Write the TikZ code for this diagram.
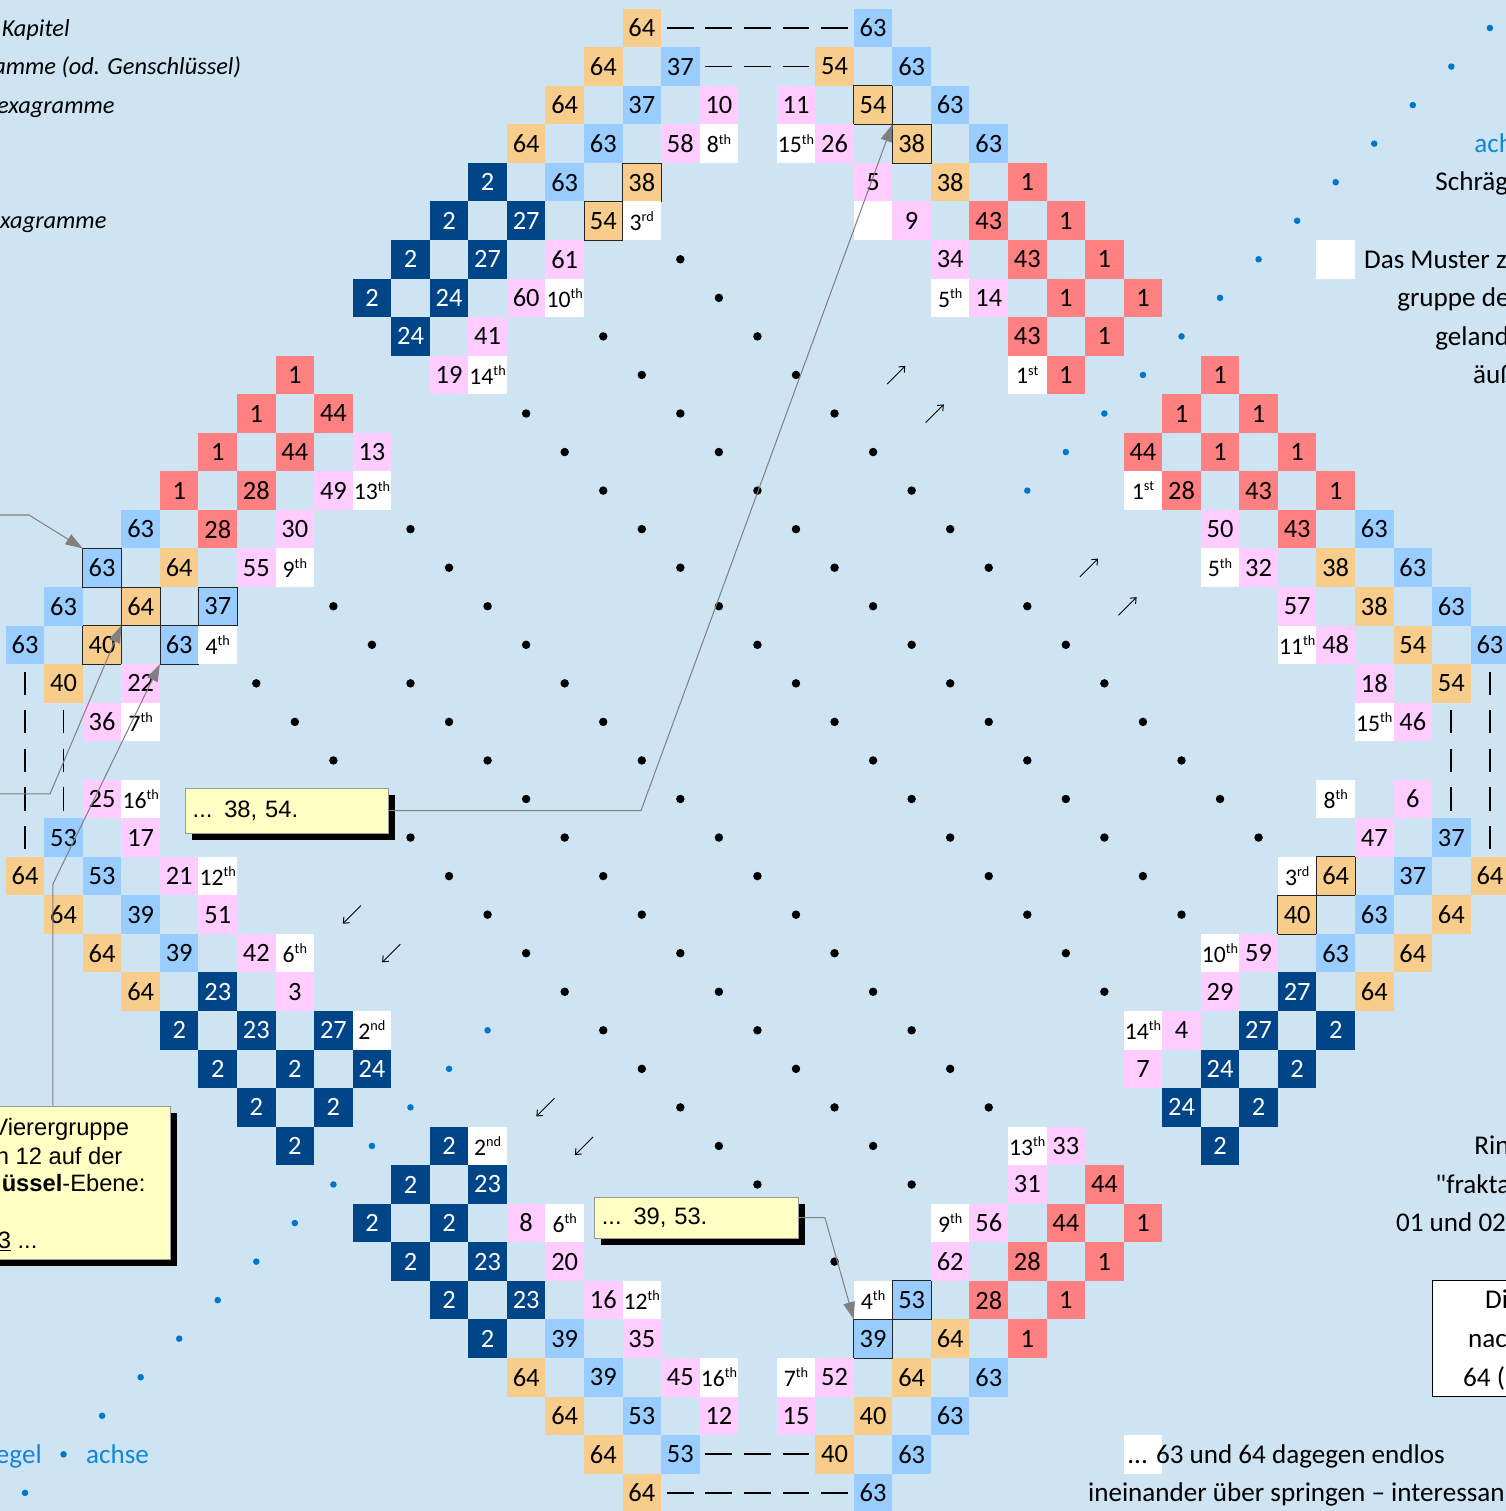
\documentclass[tikz,border=0pt]{standalone}
\usepackage{fontspec}
\setmainfont{Carlito}
\newfontfamily\arialfam{Liberation Sans}
\newfontfamily\plainquotefont{Carlito}[Ligatures=TeXOff]
\usetikzlibrary{arrows.meta,shadows}
\definecolor{bgc}{RGB}{206,228,243}
\definecolor{corg}{RGB}{248,204,138}
\definecolor{cblu}{RGB}{153,204,255}
\definecolor{cpnk}{RGB}{255,204,255}
\definecolor{cred}{RGB}{255,128,128}
\definecolor{cdrk}{RGB}{0,69,136}
\definecolor{dotblue}{RGB}{0,118,204}
\definecolor{txtblue}{RGB}{20,134,214}
\definecolor{callfill}{RGB}{255,255,196}
\definecolor{lineg}{RGB}{128,128,128}
\newcommand\numsize{\fontsize{19.5}{19.5}\selectfont}
\newcommand\ordsize{\fontsize{17.5}{17.5}\selectfont}
\newcommand\legsize{\fontsize{20}{24}\selectfont}
\newcommand\itsize{\fontsize{18}{22}\selectfont\itshape}
\newcommand\calsize{\arialfam\fontsize{17.5}{21}\selectfont}
\newcommand\ordn[2]{{\ordsize #1\raisebox{6.5pt}{\fontsize{10.5}{10.5}\selectfont #2}}}
\tikzset{
  cellbase/.style={rectangle, minimum size=1cm, inner sep=0pt, outer sep=0pt, font=\numsize, text=black},
  cellO/.style={cellbase, fill=corg},
  cellB/.style={cellbase, fill=cblu},
  cellP/.style={cellbase, fill=cpnk},
  cellR/.style={cellbase, fill=cred},
  cellD/.style={cellbase, fill=cdrk, text=white},
  cellW/.style={cellbase, fill=white},
  framed/.style={draw=black!85, line width=0.6pt},
  dashmark/.style={line width=1.35pt, draw=black},
  conn/.style={draw=lineg, line width=0.75pt, -{Triangle[length=0.45cm,width=0.3cm,fill=lineg]}},
  smallarrow/.style={draw=black, line width=0.7pt, -{Straight Barb[length=3.5pt,width=6pt]}},
  callout/.style={draw=black!40, line width=0.6pt, fill=callfill, inner sep=0pt, font=\calsize,
     drop shadow={shadow xshift=0.18cm, shadow yshift=-0.18cm, fill=black, opacity=1}},
  calltext/.style={font=\calsize, inner sep=0pt, anchor=base east},
  legend/.style={font=\legsize, inner sep=0pt, anchor=base west},
  legendE/.style={font=\legsize, inner sep=0pt, anchor=base east},
  legendI/.style={font=\itsize, inner sep=0pt, anchor=base west},
}
\begin{document}
\begin{tikzpicture}
\useasboundingbox (-0.6485,0.7263) rectangle (38.418,-38.470);
\clip (-0.6485,0.7263) rectangle (38.418,-38.470);
\fill[bgc] (-0.6485,0.7263) rectangle (38.418,-38.470);

% black dot lattice
\foreach \dd/\aa/\bb in {11/6/21, 7/8/23, 3/10/25, -3/13/28, -7/15/30, -11/17/32}{
  \foreach \yy in {\aa,...,\bb}{ \fill[black] (\yy+\dd,-\yy) circle (0.11); }
}
% blue axis dots
\foreach \yy in {0,...,12}{ \fill[dotblue] (38-\yy,-\yy) circle (0.085); }
\foreach \yy in {26,...,38}{ \fill[dotblue] (38-\yy,-\yy) circle (0.085); }

% dashes and bars
\foreach \xx in {17,...,21}{
  \draw[dashmark] (\xx-0.35,0) -- (\xx+0.35,0);
  \draw[dashmark] (\xx-0.35,-38) -- (\xx+0.35,-38);
}
\foreach \xx in {18,...,20}{
  \draw[dashmark] (\xx-0.35,-1) -- (\xx+0.35,-1);
  \draw[dashmark] (\xx-0.35,-37) -- (\xx+0.35,-37);
}
\foreach \yy in {17,...,21}{
  \draw[dashmark] (0,-\yy+0.3) -- (0,-\yy-0.3);
  \draw[dashmark] (38,-\yy+0.3) -- (38,-\yy-0.3);
}
\foreach \yy in {18,...,20}{
  \draw[dashmark] (1,-\yy+0.3) -- (1,-\yy-0.3);
  \draw[dashmark] (37,-\yy+0.3) -- (37,-\yy-0.3);
}

% orange cells
\foreach \xx/\yy/\lab in {16/0/64, 15/1/64, 21/1/54, 14/2/64, 13/3/64, 24/4/38, 4/14/64, 34/14/38,
  35/15/38, 36/16/54, 1/17/40, 37/17/54, 0/22/64, 38/22/64, 1/23/64, 37/23/64, 2/24/64, 36/24/64,
  3/25/64, 35/25/64, 24/34/64, 13/35/64, 23/35/64, 14/36/64, 22/36/40, 15/37/64, 21/37/40, 16/38/64}
  { \node[cellO] (n\xx-\yy) at (\xx,-\yy) {\lab}; }
\foreach \xx/\yy/\lab in {22/2/54, 23/3/38, 16/4/38, 15/5/54, 3/15/64, 2/16/40, 34/22/64, 33/23/40}
  { \node[cellO, framed] (n\xx-\yy) at (\xx,-\yy) {\lab}; }

% light blue cells
\foreach \xx/\yy/\lab in {22/0/63, 17/1/37, 23/1/63, 16/2/37, 24/2/63, 15/3/63, 25/3/63, 14/4/63,
  3/13/63, 35/13/63, 36/14/63, 1/15/63, 37/15/63, 0/16/63, 38/16/63, 1/21/53, 37/21/37, 2/22/53,
  36/22/37, 3/23/39, 35/23/63, 4/24/39, 34/24/63, 14/34/39, 15/35/39, 25/35/63, 16/36/53, 24/36/63,
  17/37/53, 23/37/63, 22/38/63}
  { \node[cellB] (n\xx-\yy) at (\xx,-\yy) {\lab}; }
\foreach \xx/\yy/\lab in {2/14/63, 5/15/37, 4/16/63, 23/33/53, 22/34/39}
  { \node[cellB, framed] (n\xx-\yy) at (\xx,-\yy) {\lab}; }

% pink cells
\foreach \xx/\yy/\lab in {18/2/10, 20/2/11, 17/3/58, 21/3/26, 22/4/5, 23/5/9, 14/6/61, 24/6/34,
  13/7/60, 25/7/14, 12/8/41, 11/9/19, 9/11/13, 8/12/49, 7/13/30, 31/13/50, 6/14/55, 32/14/32,
  33/15/57, 34/16/48, 3/17/22, 35/17/18, 2/18/36, 36/18/46, 2/20/25, 36/20/6, 3/21/17, 35/21/47,
  4/22/21, 5/23/51, 6/24/42, 32/24/59, 7/25/3, 31/25/29, 30/26/4, 29/27/7, 27/29/33, 26/30/31,
  13/31/8, 25/31/56, 14/32/20, 24/32/62, 15/33/16, 16/34/35, 17/35/45, 21/35/52, 18/36/12, 20/36/15}
  { \node[cellP] (n\xx-\yy) at (\xx,-\yy) {\lab}; }

% red cells
\foreach \xx/\yy/\lab in {26/4/1, 25/5/43, 27/5/1, 26/6/43, 28/6/1, 27/7/1, 29/7/1, 26/8/43, 28/8/1,
  7/9/1, 27/9/1, 31/9/1, 6/10/1, 8/10/44, 30/10/1, 32/10/1, 5/11/1, 7/11/44, 29/11/44, 31/11/1,
  33/11/1, 4/12/1, 6/12/28, 30/12/28, 32/12/43, 34/12/1, 5/13/28, 33/13/43, 28/30/44, 27/31/44,
  29/31/1, 26/32/28, 28/32/1, 25/33/28, 27/33/1, 26/34/1}
  { \node[cellR] (n\xx-\yy) at (\xx,-\yy) {\lab}; }

% dark blue cells
\foreach \xx/\yy/\lab in {12/4/2, 11/5/2, 13/5/27, 10/6/2, 12/6/27, 9/7/2, 11/7/24, 10/8/24,
  5/25/23, 33/25/27, 4/26/2, 6/26/23, 8/26/27, 32/26/27, 34/26/2, 5/27/2, 7/27/2, 9/27/24, 31/27/24,
  33/27/2, 6/28/2, 8/28/2, 30/28/24, 32/28/2, 7/29/2, 11/29/2, 31/29/2, 10/30/2, 12/30/23, 9/31/2,
  11/31/2, 10/32/2, 12/32/23, 11/33/2, 13/33/23, 12/34/2}
  { \node[cellD] (n\xx-\yy) at (\xx,-\yy) {\lab}; }

% white ordinal cells
\foreach \xx/\yy/\nn/\ss in {18/3/8/th, 20/3/15/th, 16/5/3/rd, 14/7/10/th, 24/7/5/th, 12/9/14/th,
  26/9/1/st, 9/12/13/th, 29/12/1/st, 7/14/9/th, 31/14/5/th, 5/16/4/th, 33/16/11/th, 3/18/7/th,
  35/18/15/th, 3/20/16/th, 34/20/8/th, 5/22/12/th, 33/22/3/rd, 7/24/6/th, 31/24/10/th, 9/26/2/nd,
  29/26/14/th, 12/29/2/nd, 26/29/13/th, 14/31/6/th, 24/31/9/th, 16/33/12/th, 22/33/4/th,
  18/35/16/th, 20/35/7/th}
  { \node[cellW] (n\xx-\yy) at (\xx,-\yy) {\ordn{\nn}{\ss}}; }
\foreach \xx/\yy in {22/5, 34/6, 29/37}
  { \node[cellW] (n\xx-\yy) at (\xx,-\yy) {}; }

% small diagonal arrows
\foreach \xx/\yy in {22.6/9, 23.6/10, 27.6/14, 28.6/15}
  { \draw[smallarrow] (\xx-0.235,-\yy-0.235) -- (\xx+0.235,-\yy+0.235); }
\foreach \xx/\yy in {8.48/23, 9.5/24, 13.5/28, 14.5/29}
  { \draw[smallarrow] (\xx+0.235,-\yy+0.235) -- (\xx-0.235,-\yy-0.235); }

% callout boxes
\node[callout, minimum width=5.27cm, minimum height=1.17cm, text width=4.87cm, inner xsep=0.2cm, align=left]
  (cb1) at (6.785,-20.30) {... 38, 54.};
\node[callout, minimum width=5.29cm, minimum height=1.07cm, text width=4.89cm, inner xsep=0.2cm, align=left]
  (cb2) at (17.41,-30.86) {... 39, 53.};
\node[callout, minimum width=9.6cm, minimum height=3.97cm] (cb3) at (-1.04,-29.95) {};
\node[calltext] (vt1) at (2.706,-28.72) {Vierergruppe};
\node[calltext] (vt2) at (2.534,-29.47) {n 12 auf der};
\node[calltext] (vt3) at (3.131,-30.17) {\textbf{üssel}-Ebene:};
\node[calltext] (vt4) at (0.329,-31.65) {\underline{3} ...};

% connectors
\coordinate (k1) at (15.98,-20.30);
\draw[conn] (cb1.east) -- (k1) -- (n22-2.south east);
\coordinate (k2) at (20.75,-30.86);
\draw[conn] (cb2.east) -- (k2) -- (n22-34.north west);
\coordinate (v3c) at (0.726,-22.2);
\draw[conn] (cb3.north -| v3c) -- (v3c) -- (n4-16.south west);
\coordinate (l1a) at (-1,-12.633);
\coordinate (l1b) at (0.104,-12.633);
\draw[conn] (l1a) -- (l1b) -- (n2-14.north west);
\coordinate (l2a) at (-1,-19.87);
\coordinate (l2b) at (0.6485,-19.87);
\draw[conn] (l2a) -- (l2b) -- (n2-16.north east);

% left legend texts
\node[legendI] (t1) at (-0.61,-0.21) {Kapitel};
\node[legendI] (t2) at (-0.83,-1.21) {amme (od. Genschlüssel)};
\node[legendI] (t3) at (-0.73,-2.21) {exagramme};
\node[legendI] (t4) at (-0.65,-5.21) {xagramme};
\node[legendE, text=txtblue] (t5) at (0.44,-37.227) {egel};
\node[legend, text=txtblue] (t6) at (1.58,-37.227) {achse};

% right legend texts
\node[legend, text=txtblue] (r1) at (37.59,-3.227) {ach};
\node[legend] (r2) at (36.58,-4.227) {Schräg};
\node[legend] (r3) at (34.73,-6.227) {Das Muster z};
\node[legend] (r4) at (35.59,-7.227) {gruppe de};
\node[legend] (r5) at (36.58,-8.227) {geland};
\node[legend] (r6) at (37.56,-9.227) {äuß};
\node[legend] (r7) at (37.59,-29.227) {Rin};
\node[legend] (r8) at (36.58,-30.227) {{\plainquotefont "}frakta};
\node[legend] (r9) at (35.56,-31.227) {01 und 02};
\node[draw=black, fill=white, line width=0.6pt, minimum width=3.6cm, minimum height=2.99cm, inner sep=0pt]
  (rbox) at (38.3,-33.995) {};
\node[legend] (r10) at (37.87,-33.227) {Di};
\node[legend] (r11) at (37.43,-34.227) {nac};
\node[legend] (r12) at (37.30,-35.227) {64 (};
\node[legend] (r13) at (28.59,-37.227) {... 63 und 64 dagegen endlos};
\node[legend] (r14) at (27.57,-38.227) {ineinander über springen – interessan};
\end{tikzpicture}
\end{document}
